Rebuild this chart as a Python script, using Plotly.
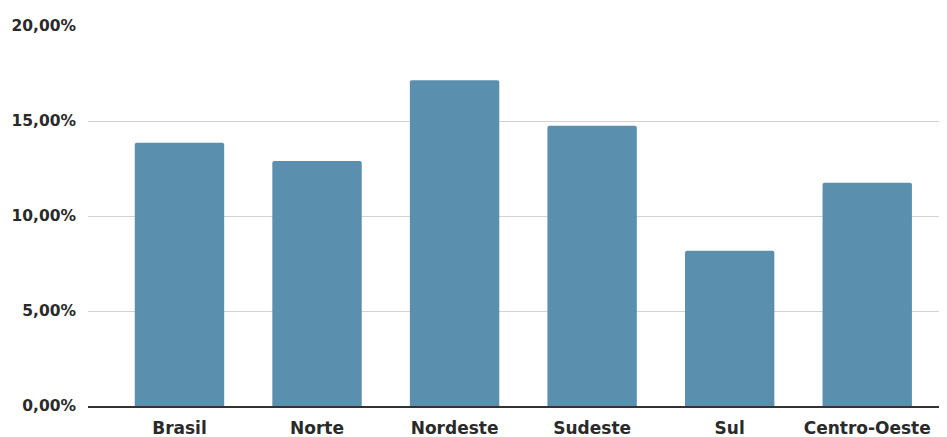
import plotly.graph_objects as go

categories = ["Brasil", "Norte", "Nordeste", "Sudeste", "Sul", "Centro-Oeste"]
values = [13.85, 12.9, 17.15, 14.75, 8.17, 11.75]
y_tickvals = [0, 5, 10, 15, 20]
y_ticktext = ["0,00%", "5,00%", "10,00%", "15,00%", "20,00%"]

FONT = "DejaVu Sans, Liberation Sans, Arial, sans-serif"

fig = go.Figure(
    go.Bar(
        x=categories,
        y=values,
        marker=dict(color="#5A8FAD", line=dict(width=0)),
    )
)

# page body has an 8px margin, so the figure is sized and offset to compensate
fig.update_layout(
    width=939,
    height=429,
    margin=dict(l=80, r=0, t=18, b=31, autoexpand=False),
    paper_bgcolor="white",
    plot_bgcolor="white",
    bargap=0.35,
    barcornerradius=2,
    showlegend=False,
    font=dict(family=FONT, size=15, color="#333333"),
)

fig.update_xaxes(
    range=[-0.665, 5.58],
    automargin=False,
    showgrid=False,
    showline=True,
    linecolor="#333333",
    linewidth=1.5,
    ticks="",
    tickfont=dict(family=FONT, size=17, color="#2a2a2a", weight="bold"),
    ticklabelstandoff=6,
)

fig.update_yaxes(
    range=[0, 20],
    automargin=False,
    tickvals=y_tickvals,
    ticktext=y_ticktext,
    showgrid=True,
    gridcolor="#d2d2d2",
    gridwidth=1,
    zeroline=False,
    showline=False,
    ticks="",
    tickfont=dict(family=FONT, size=15.5, color="#2a2a2a", weight="bold"),
    ticklabelstandoff=11,
)

fig.write_html("out.html")
